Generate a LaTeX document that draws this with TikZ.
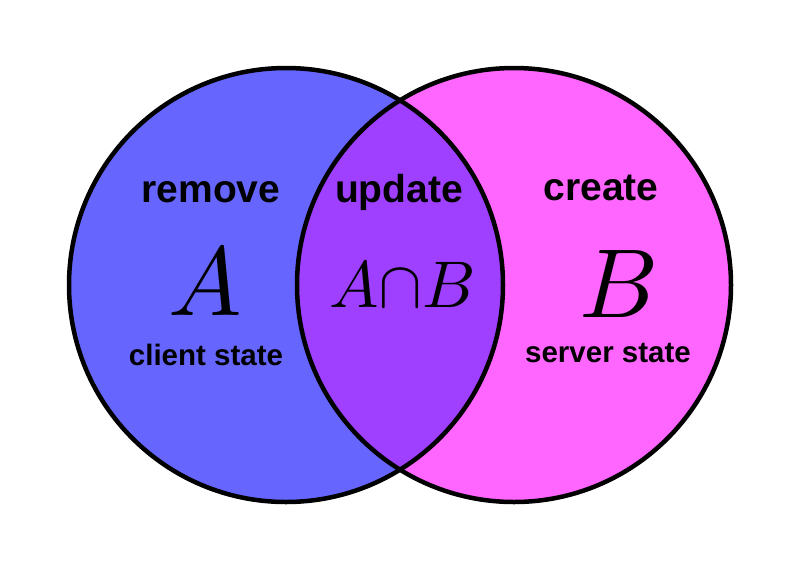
\documentclass[tikz,border=0pt]{standalone}
\usepackage{fontspec}
\setsansfont{Liberation Sans}
\usepackage{unicode-math}
\setmathfont{Latin Modern Math}
\definecolor{setA}{HTML}{6666FF}
\definecolor{setB}{HTML}{FF66FF}
\definecolor{setAB}{HTML}{9F3FFF}
\tikzset{
  lbl/.style={font=\sffamily\bfseries\fontsize{39}{39}\selectfont, anchor=base, inner sep=0pt},
  sub/.style={font=\sffamily\bfseries\fontsize{29.5}{29.5}\selectfont, anchor=base, inner sep=0pt},
  big/.style={font=\fontsize{98}{98}\selectfont, anchor=base, inner sep=0pt},
  mid/.style={font=\fontsize{66}{66}\selectfont, anchor=base, inner sep=0pt},
  ring/.style={draw=black, line width=4.5pt}
}
\begin{document}
\begin{tikzpicture}[x=1pt,y=-1pt]
\useasboundingbox (0,0) rectangle (800,571);
\fill[white] (0,0) rectangle (800,571);
\coordinate (ca) at (286,285);
\coordinate (cb) at (514,285);
\fill[setA] (ca) circle[radius=217];
\fill[setB] (cb) circle[radius=217];
\begin{scope}
\clip (ca) circle[radius=217];
\fill[setAB] (cb) circle[radius=217];
\end{scope}
\draw[ring] (ca) circle[radius=217];
\draw[ring] (cb) circle[radius=217];
\node[lbl] (rem) at (211,202) {remove};
\node[lbl] (upd) at (399,202) {update};
\node[lbl] (cre) at (601,200) {create};
\node[big] (la) at (205,315) {$A$};
\node[mid] (lab) at (402,307) {$A{\cap}B$};
\node[big] (lb) at (618,317) {$B$};
\node[sub] (cs) at (206,365) {client state};
\node[sub] (ss) at (608,362) {server state};
\end{tikzpicture}
\end{document}
